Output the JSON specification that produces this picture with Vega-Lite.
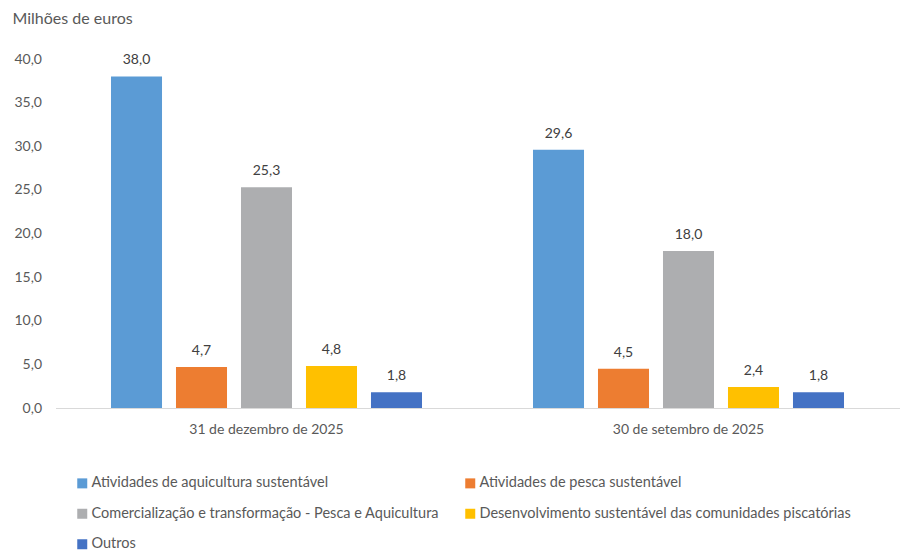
{
  "$schema": "https://vega.github.io/schema/vega-lite/v6.json",
  "width": 844,
  "height": 349,
  "autosize": {"type": "none"},
  "padding": {"left": 55.5, "top": 59, "right": 7.5, "bottom": 142},
  "background": "white",
  "config": {
    "locale": {"number": {"decimal": ",", "thousands": ".", "grouping": [3], "currency": ["", " €"]}},
    "font": "Lato",
    "view": {"stroke": null},
    "axis": {"labelColor": "#595959", "titleColor": "#595959", "grid": false, "ticks": false}
  },
  "data": {
    "values": [
      {"periodo": "31 de dezembro de 2025", "categoria": "Atividades de aquicultura sustentável", "valor": 38.0},
      {"periodo": "31 de dezembro de 2025", "categoria": "Atividades de pesca sustentável", "valor": 4.7},
      {"periodo": "31 de dezembro de 2025", "categoria": "Comercialização e transformação - Pesca e Aquicultura", "valor": 25.3},
      {"periodo": "31 de dezembro de 2025", "categoria": "Desenvolvimento sustentável das comunidades piscatórias", "valor": 4.8},
      {"periodo": "31 de dezembro de 2025", "categoria": "Outros", "valor": 1.8},
      {"periodo": "30 de setembro de 2025", "categoria": "Atividades de aquicultura sustentável", "valor": 29.6},
      {"periodo": "30 de setembro de 2025", "categoria": "Atividades de pesca sustentável", "valor": 4.5},
      {"periodo": "30 de setembro de 2025", "categoria": "Comercialização e transformação - Pesca e Aquicultura", "valor": 18.0},
      {"periodo": "30 de setembro de 2025", "categoria": "Desenvolvimento sustentável das comunidades piscatórias", "valor": 2.4},
      {"periodo": "30 de setembro de 2025", "categoria": "Outros", "valor": 1.8}
    ]
  },
  "encoding": {
    "x": {
      "field": "periodo", "type": "nominal",
      "sort": ["31 de dezembro de 2025", "30 de setembro de 2025"],
      "scale": {"paddingInner": 0.263, "paddingOuter": 0.1315},
      "axis": {"title": null, "labelAngle": 0, "labelFontSize": 14, "labelPadding": 14, "domainColor": "#D9D9D9", "domainWidth": 1}
    },
    "xOffset": {
      "field": "categoria", "type": "nominal",
      "sort": ["Atividades de aquicultura sustentável", "Atividades de pesca sustentável", "Comercialização e transformação - Pesca e Aquicultura", "Desenvolvimento sustentável das comunidades piscatórias", "Outros"],
      "scale": {"paddingInner": 0.215, "paddingOuter": 0}
    },
    "y": {
      "field": "valor", "type": "quantitative",
      "scale": {"domain": [0, 40]},
      "axis": {
        "title": "Milhões de euros", "titleAngle": 0, "titleX": -43.5, "titleY": -41,
        "titleAlign": "left", "titleBaseline": "middle", "titleFontSize": 16, "titleFontWeight": "normal",
        "values": [0, 5, 10, 15, 20, 25, 30, 35, 40], "format": ".1f",
        "labelFontSize": 14, "labelPadding": 14, "domain": false
      }
    }
  },
  "layer": [
    {
      "mark": {"type": "bar"},
      "encoding": {
        "color": {
          "field": "categoria", "type": "nominal",
          "scale": {
            "domain": ["Atividades de aquicultura sustentável", "Atividades de pesca sustentável", "Comercialização e transformação - Pesca e Aquicultura", "Desenvolvimento sustentável das comunidades piscatórias", "Outros"],
            "range": ["#5B9BD5", "#ED7D31", "#ADAEB0", "#FFC000", "#4472C4"]
          },
          "legend": {
            "title": null, "orient": "none", "legendX": 19.5, "legendY": 417, "padding": 0,
            "direction": "horizontal",
            "columns": 2, "symbolType": "square", "symbolSize": 100, "symbolStrokeWidth": 0,
            "labelFontSize": 14.5, "labelColor": "#595959", "labelLimit": 500, "labelOffset": 2,
            "rowPadding": 15.5, "columnPadding": 23
          }
        }
      }
    },
    {
      "mark": {"type": "text", "dy": -16, "baseline": "middle", "fontSize": 14, "color": "#404040"},
      "encoding": {
        "text": {"field": "valor", "type": "quantitative", "format": ".1f"}
      }
    }
  ]
}
